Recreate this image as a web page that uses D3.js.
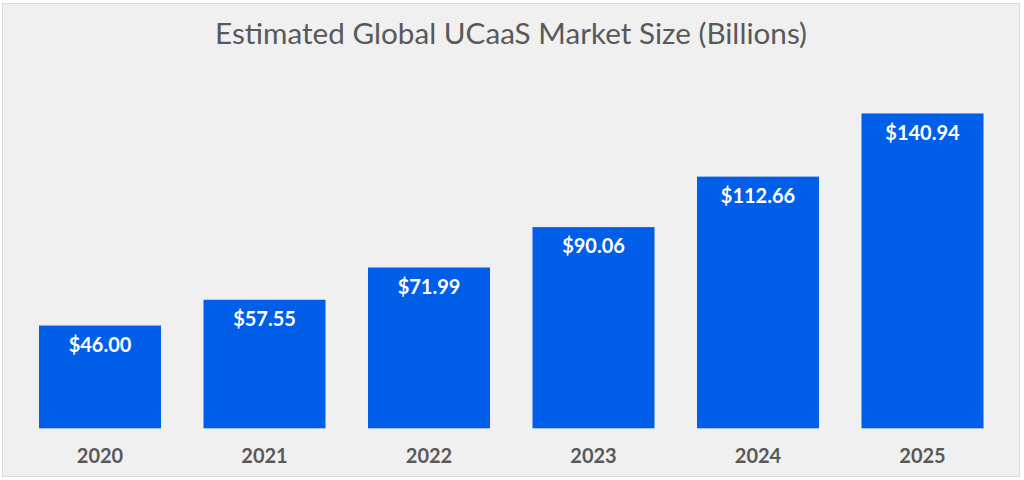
<!DOCTYPE html>
<html>
<head>
<meta charset="utf-8">
<script src="https://cdn.jsdelivr.net/npm/d3@7"></script>
<style>
  html, body { margin: 0; padding: 0; background: #ffffff; }
  svg { display: block; }
</style>
</head>
<body>
<svg id="chart" width="1024" height="480"></svg>
<script>
const title = "Estimated Global UCaaS Market Size (Billions)";
const years = ["2020", "2021", "2022", "2023", "2024", "2025"];
const values = [46.00, 57.55, 71.99, 90.06, 112.66, 140.94];
const valueLabels = ["$46.00", "$57.55", "$71.99", "$90.06", "$112.66", "$140.94"];

const svg = d3.select("#chart");
const W = 1024, H = 480;

svg.append("rect")
  .attr("x", 2.5).attr("y", 3.5)
  .attr("width", 1017).attr("height", 473)
  .attr("fill", "#f0f0f0")
  .attr("stroke", "#d9d9d9")
  .attr("stroke-width", 1);

const x = d3.scaleBand()
  .domain(years)
  .range([17.75, 1004.75])
  .paddingInner(0.2584)
  .paddingOuter(0.1292);

const y = d3.scaleLinear()
  .domain([0, 160])
  .range([428.3, 428.3 - 160 * 2.234]);

svg.append("text")
  .attr("x", 511)
  .attr("y", 44.3)
  .attr("text-anchor", "middle")
  .attr("font-family", "Lato, 'Noto Sans', sans-serif")
  .attr("font-size", 28)
  .attr("fill", "#595959")
  .attr("textLength", 592)
  .attr("lengthAdjust", "spacingAndGlyphs")
  .text(title);

const data = years.map((yr, i) => ({ yr, v: values[i], lab: valueLabels[i] }));

svg.append("g").selectAll("rect")
  .data(data)
  .join("rect")
  .attr("x", d => x(d.yr))
  .attr("y", d => y(d.v))
  .attr("width", x.bandwidth())
  .attr("height", d => y(0) - y(d.v))
  .attr("fill", "#005ee9");

svg.append("g").selectAll("text")
  .data(data)
  .join("text")
  .attr("x", d => x(d.yr) + x.bandwidth() / 2)
  .attr("y", d => y(d.v) + 26.3)
  .attr("text-anchor", "middle")
  .attr("font-family", "Lato, 'Noto Sans', sans-serif")
  .attr("font-weight", "bold")
  .attr("font-size", 20)
  .attr("fill", "#ffffff")
  .text(d => d.lab);

const xAxis = d3.axisBottom(x).tickSize(0).tickPadding(0);
const gx = svg.append("g")
  .attr("transform", `translate(0, ${y(0)})`)
  .call(xAxis);
gx.select(".domain").remove();
gx.selectAll("text")
  .attr("dy", null)
  .attr("y", 34.4)
  .attr("font-family", "Lato, 'Noto Sans', sans-serif")
  .attr("font-weight", "bold")
  .attr("font-size", 20)
  .attr("fill", "#595959");
</script>
</body>
</html>
